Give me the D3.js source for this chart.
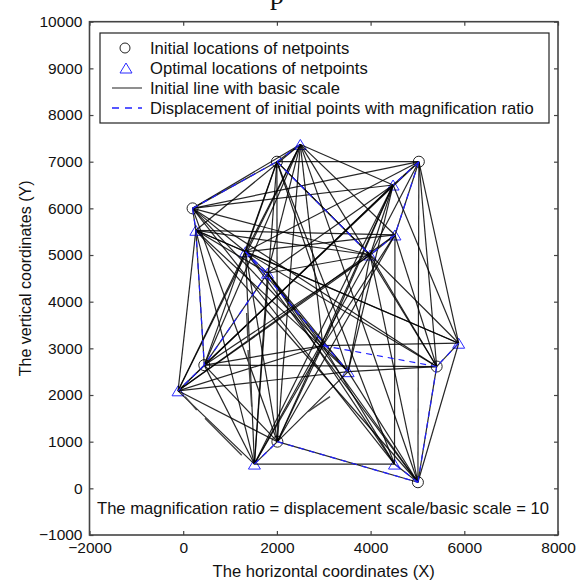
<!DOCTYPE html>
<html>
<head>
<meta charset="utf-8">
<script src="https://cdn.jsdelivr.net/npm/d3@7"></script>
<style>
    body { margin: 0; background: #fff; }
    svg text { font-family: "Liberation Sans", Arial, sans-serif; fill: #111; }
</style>
</head>
<body>
<svg id="chart" width="584" height="581"></svg>
<script>
/* --------------------------------------------------------------
DATOS — netpoints, lines, ticks
-------------------------------------------------------------- */

const X_TICKS = [-2000, 0, 2000, 4000, 6000, 8000];
const Y_TICKS = [-1000, 0, 1000, 2000, 3000, 4000, 5000, 6000, 7000, 8000, 9000, 10000];

const NODE_IDS  = ["A", "B", "C", "D", "E", "F", "G", "H", "I", "J", "K", "L", "M", "N", "O", "P", "Q", "R", "S", "T"];
const NODE_X    = [200, 270, 2000, 2500, 5030, 4480, 4520, 3990, 1330, 1800, 450, -110, 1520, 2010, 5010, 4510, 5880, 5410, 3520, 2980];
const NODE_Y    = [6000, 5530, 7000, 7370, 7000, 6500, 5430, 5000, 5070, 4610, 2640, 2090, 520, 1000, 130, 520, 3110, 2610, 2500, 3060];
const NODE_MARK = ["circle", "triangle", "circle", "triangle", "circle", "triangle", "triangle", "triangle", "triangle", "triangle",
                   "circle", "triangle", "triangle", "circle", "circle", "triangle", "triangle", "circle", "triangle", "none"];

// initial network lines (black)
const LINES = [
    "A-B", "A-C", "A-D", "A-E", "A-F", "A-H", "A-I", "B-D", "B-G", "B-H", "B-I", "B-J", "C-D", "C-E", "C-I", "C-H",
    "D-F", "D-G", "D-I", "D-J", "E-F", "E-G", "E-H", "E-I", "F-H", "F-J", "G-H", "G-I", "H-J", "I-J",
    "A-T", "A-R", "A-P", "A-N", "B-K", "B-L", "B-S", "B-Q", "B-O", "B-M", "C-N", "C-K", "C-S", "C-P", "C-M", "C-Q",
    "D-K", "D-L", "D-T", "D-N", "D-O", "D-R", "E-O", "E-R", "E-Q", "E-K", "F-K", "F-L", "F-S", "F-T", "F-Q", "F-M", "F-N",
    "G-P", "G-L", "G-T", "G-N", "G-R", "H-K", "H-S", "H-R", "H-O", "H-M", "H-L", "I-S", "I-L", "I-M", "I-N", "I-O", "I-R", "I-Q",
    "J-K", "J-S", "J-T", "J-M", "J-O", "J-P",
    "K-R", "K-L", "K-M", "K-N", "K-T", "L-M", "L-N", "L-T", "L-S", "M-P", "M-N", "M-T", "N-O", "N-T", "N-S",
    "O-R", "O-Q", "O-S", "O-P", "P-T", "Q-R", "Q-T", "R-S", "S-T"
];

// displacement lines (blue dashed)
const DISPLACED = ["A-C", "C-D", "C-H", "A-B", "B-K", "E-G", "E-F", "G-H", "I-J", "J-K", "K-L", "I-S", "T-R", "Q-R", "O-R", "M-N", "N-O", "O-P"];

// short loose pieces of line: x1, y1, x2, y2
const FRAGMENTS = [
    [40, 1965, 290, 1680],
    [465, 1500, 1250, 710],
    [1383, 2966, 1462, 1751],
    [2664, 1643, 3134, 1965],
    [1355, 3758, 1383, 3143]
];

const LEGEND_LABELS = [
    "Initial locations of netpoints",
    "Optimal locations of netpoints",
    "Initial line with basic scale",
    "Displacement of initial points with magnification ratio"
];

const NOTE = "The magnification ratio = displacement scale/basic scale = 10";

/* --------------------------------------------------------------
ESCALAS
-------------------------------------------------------------- */

const svg = d3.select("#chart");

const x = d3.scaleLinear().domain([-2000, 8000]).range([89.5, 558]);
const y = d3.scaleLinear().domain([-1000, 10000]).range([535, 21.7]);

const nodes = {};
NODE_IDS.forEach((id, i) => {
    nodes[id] = { id: id, x: NODE_X[i], y: NODE_Y[i], mark: NODE_MARK[i] };
});

const pairs = list => list.map(s => {
    const [a, b] = s.split("-");
    return { source: nodes[a], target: nodes[b] };
});

const triangle = "M0,-5L6,5L-6,5Z";
const LABEL_SIZE = "16.6px";
const TICK_SIZE = "15.5px";

/* --------------------------------------------------------------
MARCADORES
-------------------------------------------------------------- */

const plot = svg.append("g");

plot.selectAll("circle.init")
    .data(Object.values(nodes).filter(d => d.mark === "circle"))
    .enter()
    .append("circle")
    .attr("class", "init")
    .attr("cx", d => x(d.x))
    .attr("cy", d => y(d.y))
    .attr("r", 5.5)
    .attr("fill", "none")
    .attr("stroke", "#222")
    .attr("stroke-width", 1);

plot.selectAll("path.opt")
    .data(Object.values(nodes).filter(d => d.mark === "triangle"))
    .enter()
    .append("path")
    .attr("class", "opt")
    .attr("d", triangle)
    .attr("transform", d => `translate(${x(d.x)},${y(d.y)})`)
    .attr("fill", "none")
    .attr("stroke", "#2b2bff")
    .attr("stroke-width", 1);

/* --------------------------------------------------------------
LINEAS
-------------------------------------------------------------- */

plot.selectAll("line.net")
    .data(pairs(LINES))
    .enter()
    .append("line")
    .attr("class", "net")
    .attr("x1", d => x(d.source.x))
    .attr("y1", d => y(d.source.y))
    .attr("x2", d => x(d.target.x))
    .attr("y2", d => y(d.target.y))
    .attr("stroke", "#000")
    .attr("stroke-opacity", 0.85)
    .attr("stroke-width", 1.2);

plot.selectAll("line.frag")
    .data(FRAGMENTS)
    .enter()
    .append("line")
    .attr("class", "frag")
    .attr("x1", d => x(d[0]))
    .attr("y1", d => y(d[1]))
    .attr("x2", d => x(d[2]))
    .attr("y2", d => y(d[3]))
    .attr("stroke", "#444")
    .attr("stroke-width", 1.4);

plot.selectAll("line.disp")
    .data(pairs(DISPLACED))
    .enter()
    .append("line")
    .attr("class", "disp")
    .attr("x1", d => x(d.source.x))
    .attr("y1", d => y(d.source.y))
    .attr("x2", d => x(d.target.x))
    .attr("y2", d => y(d.target.y))
    .attr("stroke", "#2020ff")
    .attr("stroke-width", 1.2)
    .attr("stroke-dasharray", "6,5");

/* --------------------------------------------------------------
EJES
-------------------------------------------------------------- */

const axisColor = "#444";

function styleAxis(g) {
    g.select(".domain").remove();
    g.selectAll(".tick line").attr("stroke", axisColor).attr("stroke-width", 1.2);
    g.selectAll(".tick text").attr("font-size", TICK_SIZE).attr("fill", "#111");
}

svg.append("g")
    .attr("transform", `translate(0,${y(-1000)})`)
    .call(d3.axisBottom(x).tickValues(X_TICKS).tickSize(-4).tickPadding(7).tickFormat(d3.format("d")))
    .call(styleAxis);

svg.append("g")
    .attr("transform", `translate(0,${y(10000)})`)
    .call(d3.axisTop(x).tickValues(X_TICKS).tickSize(-4).tickFormat(""))
    .call(styleAxis);

svg.append("g")
    .attr("transform", `translate(${x(-2000)},0)`)
    .call(d3.axisLeft(y).tickValues(Y_TICKS).tickSize(-4).tickPadding(7).tickFormat(d3.format("d")))
    .call(styleAxis);

svg.append("g")
    .attr("transform", `translate(${x(8000)},0)`)
    .call(d3.axisRight(y).tickValues(Y_TICKS).tickSize(-4).tickFormat(""))
    .call(styleAxis);

svg.append("rect")
    .attr("x", x(-2000))
    .attr("y", y(10000))
    .attr("width", x(8000) - x(-2000))
    .attr("height", y(-1000) - y(10000))
    .attr("fill", "none")
    .attr("stroke", axisColor)
    .attr("stroke-width", 1.6);

svg.append("text")
    .attr("x", (x(-2000) + x(8000)) / 2)
    .attr("y", 577)
    .attr("text-anchor", "middle")
    .attr("font-size", LABEL_SIZE)
    .text("The horizontal coordinates (X)");

svg.append("text")
    .attr("transform", `translate(31,${(y(-1000) + y(10000)) / 2}) rotate(-90)`)
    .attr("text-anchor", "middle")
    .attr("font-size", "16px")
    .text("The vertical coordinates (Y)");

svg.append("text")
    .attr("x", 97)
    .attr("y", 514)
    .attr("font-size", LABEL_SIZE)
    .text(NOTE);

// caption cut by the top edge
svg.append("text")
    .attr("x", 277)
    .attr("y", 4)
    .attr("text-anchor", "middle")
    .style("font-family", "'Liberation Serif', serif")
    .attr("font-size", "28px")
    .text("p");

/* --------------------------------------------------------------
LEYENDA
-------------------------------------------------------------- */

const legend = svg.append("g");

legend.append("rect")
    .attr("x", 100).attr("y", 33)
    .attr("width", 449).attr("height", 90)
    .attr("fill", "#fff")
    .attr("stroke", "#222")
    .attr("stroke-width", 1.2);

const rowY = i => 48 + i * 20;

legend.append("circle")
    .attr("cx", 125).attr("cy", rowY(0)).attr("r", 5)
    .attr("fill", "none").attr("stroke", "#222");

legend.append("path")
    .attr("d", triangle)
    .attr("transform", `translate(126,${rowY(1)})`)
    .attr("fill", "none").attr("stroke", "#2b2bff");

legend.append("line")
    .attr("x1", 112).attr("x2", 142)
    .attr("y1", rowY(2)).attr("y2", rowY(2))
    .attr("stroke", "#333").attr("stroke-width", 1.1);

legend.append("line")
    .attr("x1", 112).attr("x2", 142)
    .attr("y1", rowY(3)).attr("y2", rowY(3))
    .attr("stroke", "#2020ff").attr("stroke-width", 1.3)
    .attr("stroke-dasharray", "7,6");

legend.selectAll("text.lab")
    .data(LEGEND_LABELS)
    .enter()
    .append("text")
    .attr("class", "lab")
    .attr("x", 150)
    .attr("y", (d, i) => rowY(i))
    .attr("dy", "0.35em")
    .attr("font-size", LABEL_SIZE)
    .text(d => d);
</script>
</body>
</html>
